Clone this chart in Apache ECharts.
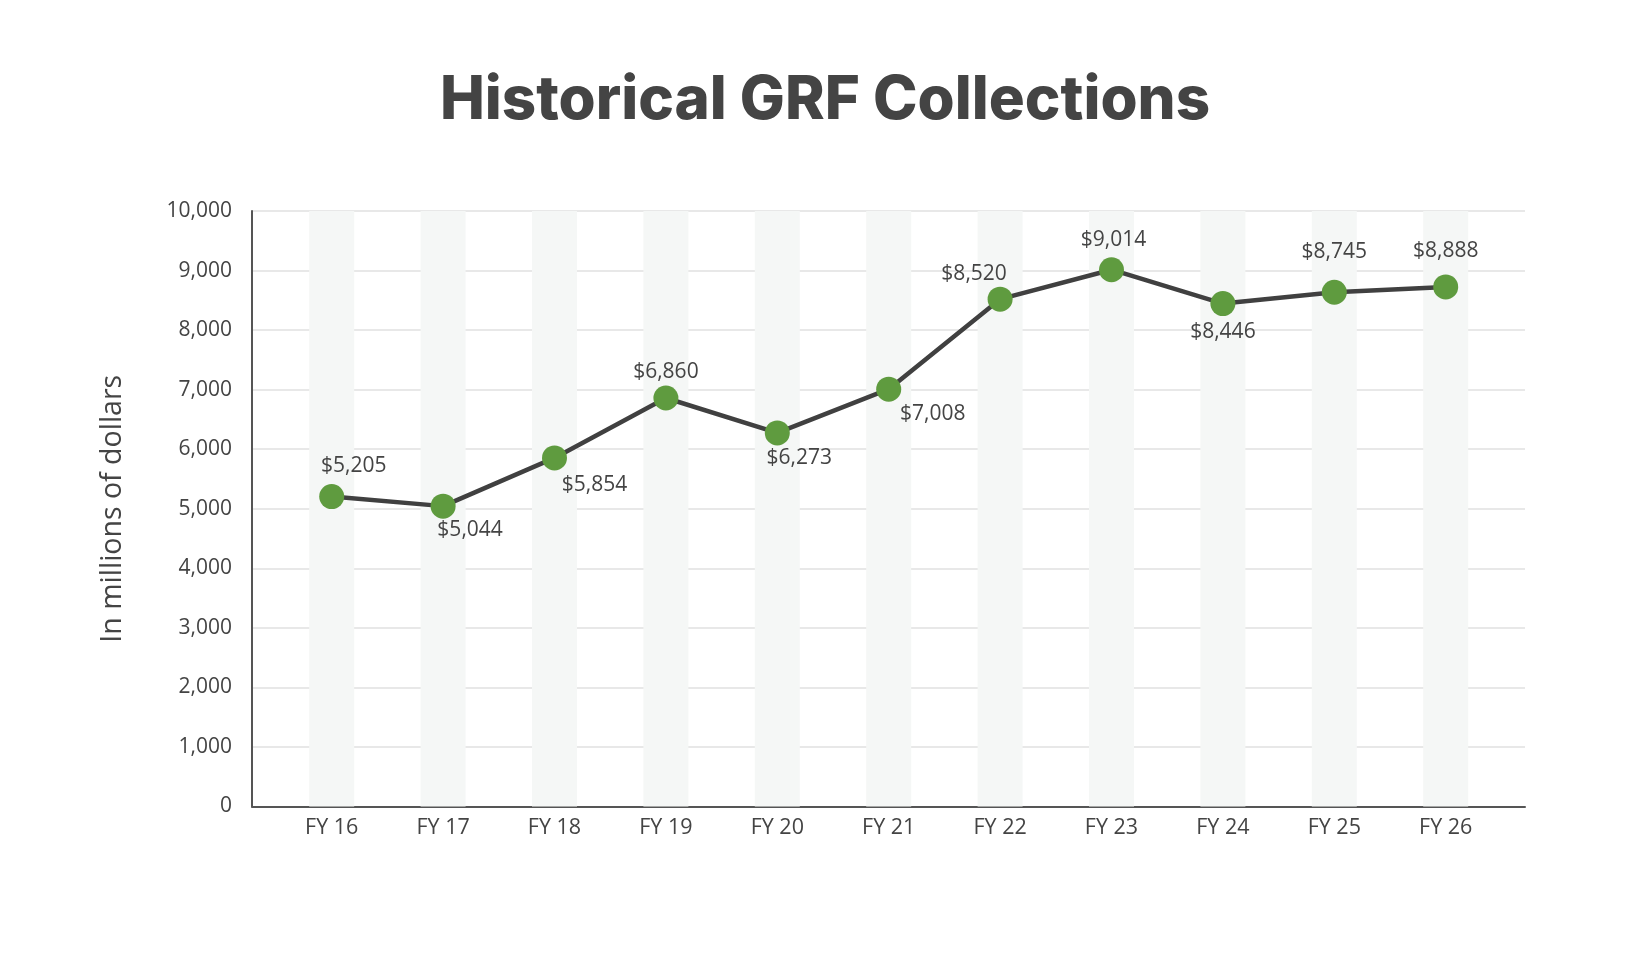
<!DOCTYPE html>
<html>
<head>
<meta charset="utf-8">
<script src="https://cdn.jsdelivr.net/npm/echarts@6/dist/echarts.min.js"></script>
<style>
  html, body { margin: 0; padding: 0; background: #ffffff; }
  #chart { width: 1650px; height: 960px; }
</style>
</head>
<body>
<div id="chart"></div>
<script>
const categories = ['FY 16', 'FY 17', 'FY 18', 'FY 19', 'FY 20', 'FY 21', 'FY 22', 'FY 23', 'FY 24', 'FY 25', 'FY 26'];
const collections = [5205, 5044, 5854, 6860, 6273, 7008, 8520, 9014, 8446, 8635, 8725];
const labelTexts = ['$5,205', '$5,044', '$5,854', '$6,860', '$6,273', '$7,008', '$8,520', '$9,014', '$8,446', '$8,745', '$8,888'];
const yTicks = [0, 1000, 2000, 3000, 4000, 5000, 6000, 7000, 8000, 9000, 10000];

// label placement (style only): offset of label centre from the point centre, in px
const labelOffsets = [[22, -31], [27, 24], [40, 27], [0, -26], [22, 25], [44, 25], [-26, -25], [2, -30], [0, 28], [0, -40], [0, -36]];

const FONT = '"Open Sans", "Noto Sans", sans-serif';
const TEXT = '#444444';

const chart = echarts.init(document.getElementById('chart'), null, { renderer: 'canvas' });

const option = {
  backgroundColor: '#ffffff',
  animation: false,
  title: {
    text: 'Historical GRF Collections',
    left: 'center',
    top: 66,
    textStyle: { fontFamily: 'Inter, "Open Sans", sans-serif', fontWeight: 800, fontSize: 60, color: '#444444' }
  },
  grid: [
    { left: 252, top: 211, width: 1273, height: 595.5 },
    { left: 276, top: 211, width: 1225.4, height: 595.5 }
  ],
  xAxis: [
    {
      gridIndex: 0, type: 'category', data: categories,
      axisLine: { show: true, lineStyle: { color: '#555555', width: 2 } },
      axisTick: { show: false }, axisLabel: { show: false }, splitLine: { show: false }
    },
    {
      gridIndex: 1, type: 'category', data: categories, boundaryGap: true,
      axisLine: { show: false }, axisTick: { show: false }, splitLine: { show: false },
      axisLabel: { color: TEXT, fontFamily: FONT, fontSize: 21.5, margin: 10 }
    }
  ],
  yAxis: [
    {
      gridIndex: 0, type: 'value', min: yTicks[0], max: yTicks[yTicks.length - 1], interval: 1000,
      name: 'In millions of dollars', nameLocation: 'middle', nameGap: 125, nameRotate: 90,
      nameTextStyle: { color: TEXT, fontFamily: FONT, fontSize: 28.5 },
      axisLine: { show: true, lineStyle: { color: '#555555', width: 2 } },
      axisTick: { show: false },
      splitLine: { show: true, lineStyle: { color: '#e8e8e8', width: 2 } },
      axisLabel: { color: TEXT, fontFamily: FONT, fontSize: 21, margin: 20,
        formatter: v => v.toLocaleString('en-US') }
    },
    {
      gridIndex: 1, type: 'value', min: yTicks[0], max: yTicks[yTicks.length - 1], interval: 1000,
      show: false, splitLine: { show: false }
    }
  ],
  series: [
    {
      type: 'bar', xAxisIndex: 1, yAxisIndex: 1, data: collections, barWidth: 45,
      itemStyle: { color: 'rgba(0,0,0,0)' },
      showBackground: true, backgroundStyle: { color: '#f5f7f6' },
      silent: true, z: 1
    },
    {
      type: 'line', xAxisIndex: 1, yAxisIndex: 1, z: 5,
      data: collections.map((v, i) => ({
        value: v,
        label: { offset: labelOffsets[i], formatter: labelTexts[i] }
      })),
      symbol: 'circle', symbolSize: 25,
      itemStyle: { color: '#5f9b3f', borderWidth: 0 },
      lineStyle: { color: '#404040', width: 4.5 },
      label: { show: true, position: 'inside', color: TEXT, fontFamily: FONT, fontSize: 21 }
    }
  ]
};

chart.setOption(option);
</script>
</body>
</html>
